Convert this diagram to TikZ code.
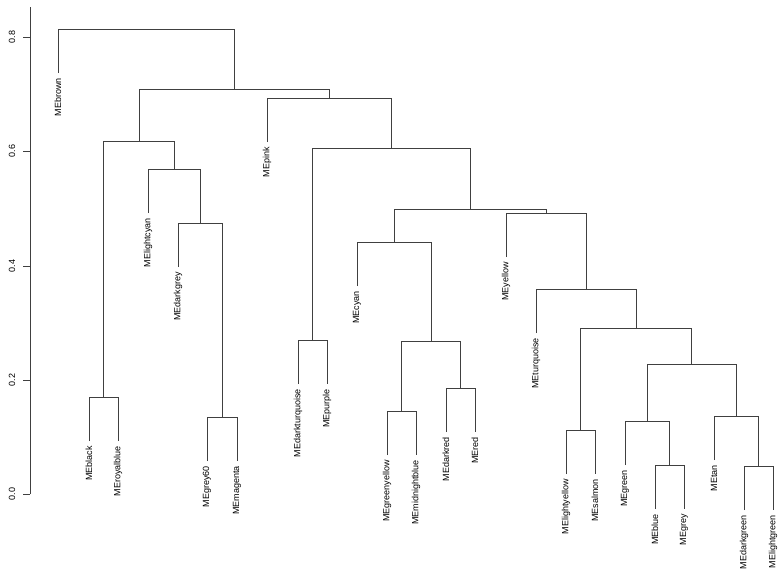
\documentclass[tikz,border=0pt]{standalone}
\usepackage{fontspec}
\setmainfont{Liberation Sans}
\begin{document}
\begin{tikzpicture}[x=1pt,y=-1pt,line width=0.7pt,
  br/.style={draw=black!75},
  lab/.style={rotate=90,anchor=east,inner sep=0pt,font=\fontsize{9}{10}\selectfont}]
\useasboundingbox (0,0) rectangle (783,582);
% axis
\draw[br] (30,494) -- (30,7);
\foreach \v/\y in {0.0/494,0.2/380,0.4/266,0.6/151,0.8/37}{
  \draw[br] (30,\y) -- (23,\y);
  \node[rotate=90,font=\fontsize{9}{10}\selectfont] at (12,\y) {\v};}
% leaves labels
\foreach \n/\x/\b in {MEbrown/58/73,MEblack/89/441,MEroyalblue/118/441,MElightcyan/148/213,
 MEdarkgrey/178/267,MEgrey60/207/461,MEmagenta/237/461,MEpink/267/142,MEdarkturquoise/298/384,
 MEpurple/327/384,MEcyan/357/286,MEgreenyellow/387/455,MEmidnightblue/416/455,MEdarkred/446/432,
 MEred/475/432,MEyellow/506/257,MEturquoise/536/333,MElightyellow/566/474,MEsalmon/595/474,
 MEgreen/625/465,MEblue/655/509,MEgrey/684/509,MEtan/714/460,MEdarkgreen/744/510,MElightgreen/773/510}{
  \node[lab] (\n) at (\x,\b+5) {\n};}
% merges: x1/b1/x2/b2/y
\foreach \a/\p/\c/\q/\y in {
 89/441/118/441/397, 207/461/237/461/417, 178/267/222/417/223, 148/213/200/223/169,
 103.5/397/174/169/141, 298/384/327/384/340, 387/455/416/455/411, 446/432/475/432/388,
 401/411/460.5/388/341, 357/286/431/341/242, 566/474/595/474/430, 655/509/684/509/465,
 625/465/669.5/465/421, 744/510/773/510/466, 714/460/758.5/466/416, 647/421/736/416/364,
 580.5/430/691.5/364/328, 536/333/636/328/289, 506/257/586/289/213, 394/242/546/213/209,
 312.5/340/470/209/148, 267/142/391/148/98, 139/141/329/98/89, 58/73/234/89/29}{
  \draw[br] (\a,\p) |- (\c,\y) -- (\c,\q);}
\end{tikzpicture}
\end{document}
